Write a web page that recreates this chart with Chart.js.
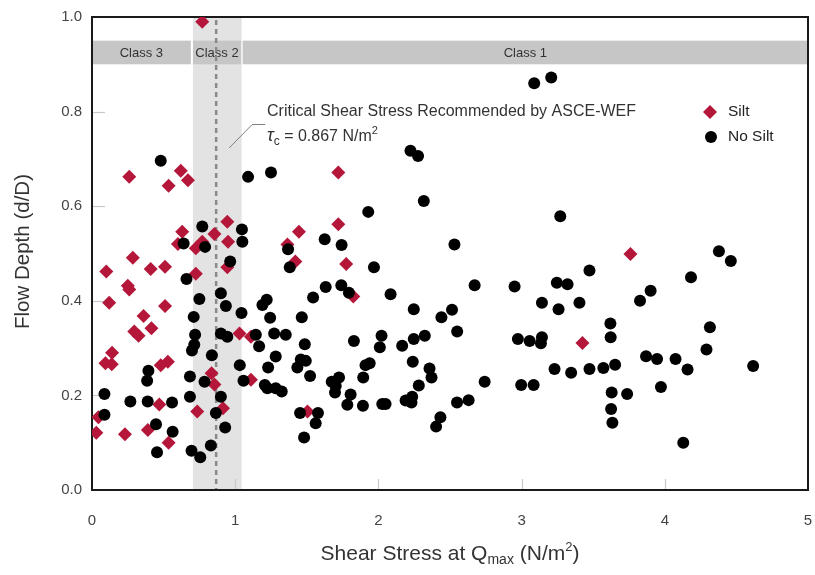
<!DOCTYPE html>
<html>
<head>
<meta charset="utf-8">
<script src="https://cdn.jsdelivr.net/npm/chart.js@4.4.0/dist/chart.umd.min.js"></script>
<style>
  html, body { margin: 0; padding: 0; background: #fff; }
</style>
</head>
<body>
<canvas id="shearChart" width="815" height="575"></canvas>
<script>
// Silt samples (red diamonds)
const siltX = [0.77, 0.26, 0.62, 0.535, 0.67, 0.945, 0.63, 0.855, 0.60, 0.77, 0.725, 0.95, 0.285, 0.945,
  0.10, 0.41, 0.51, 0.725, 0.25, 0.26, 0.12, 0.51, 0.36, 0.415, 0.295, 0.325, 1.03, 1.11, 0.14, 0.094,
  0.138, 0.48, 0.53, 0.835, 0.855, 1.11, 0.47, 0.915, 0.735, 0.045, 0.39, 0.23, 0.03, 0.535,
  1.72, 1.72, 1.445, 1.365, 1.42, 1.775, 1.825, 1.505, 3.76, 3.425];
const siltY = [0.99, 0.662, 0.675, 0.643, 0.655, 0.567, 0.546, 0.541, 0.52, 0.525, 0.511, 0.525, 0.491, 0.471,
  0.462, 0.467, 0.472, 0.457, 0.432, 0.424, 0.396, 0.389, 0.368, 0.342, 0.335, 0.326, 0.331, 0.324, 0.29, 0.268,
  0.266, 0.264, 0.271, 0.247, 0.223, 0.233, 0.181, 0.173, 0.166, 0.154, 0.127, 0.118, 0.121, 0.10,
  0.671, 0.562, 0.546, 0.519, 0.483, 0.478, 0.409, 0.166, 0.499, 0.311];

// No silt samples (black circles)
const noSiltX = [0.48, 1.09, 1.25, 0.77, 1.047, 0.64, 0.79, 1.05, 0.965, 0.66, 0.90, 0.75, 0.935, 1.22,
  1.19, 0.71, 1.044, 1.244, 0.72, 0.90, 0.945, 1.144, 1.272, 1.167, 0.714, 0.698, 0.837, 1.283, 1.032, 1.23,
  0.394, 0.385, 0.684, 0.786, 1.058, 1.207, 1.225, 0.087, 0.268, 0.389, 0.559, 0.684, 0.90, 0.865, 0.087,
  0.447, 0.563, 0.93, 0.83, 0.695, 0.454, 0.756,
  2.224, 2.277, 2.317, 1.929, 1.625, 1.369, 1.743, 2.531, 1.381, 1.969,
  1.632, 1.741, 1.544, 1.794, 2.085, 2.672, 1.465, 2.247, 2.44, 2.514, 2.55, 1.353, 1.486, 1.829, 2.022,
  2.01, 2.166, 2.247, 2.324, 1.458, 1.493, 1.434, 1.523, 1.725, 1.674, 1.702, 1.697, 1.91, 1.939, 1.894,
  2.24, 2.357, 2.371, 2.282, 2.742, 1.283, 1.325, 1.806, 1.783, 1.892, 2.027, 2.05, 2.19, 2.236, 2.231,
  2.549, 2.63, 1.453, 1.578, 1.562, 1.481, 2.433, 2.403,
  3.088, 3.207, 3.27, 3.474, 4.378, 4.461, 4.183, 2.951, 3.246, 3.321, 3.142, 3.258, 3.404, 3.827, 3.901,
  3.62, 3.622, 4.315, 2.974, 3.056, 3.142, 3.135, 4.291, 3.869, 3.946, 4.075, 4.159, 4.617, 3.23, 3.346,
  3.474, 3.571, 3.653, 2.997, 3.084, 3.973, 3.629, 3.737, 3.625, 3.634, 4.129];
const noSiltY = [0.696, 0.662, 0.671, 0.557, 0.551, 0.521, 0.514, 0.525, 0.483, 0.446, 0.416, 0.404, 0.389, 0.402,
  0.391, 0.366, 0.374, 0.364, 0.328, 0.331, 0.324, 0.328, 0.331, 0.304, 0.307, 0.295, 0.285, 0.282, 0.264, 0.259,
  0.252, 0.231, 0.24, 0.229, 0.231, 0.222, 0.215, 0.203, 0.187, 0.187, 0.185, 0.197, 0.197, 0.163, 0.159,
  0.139, 0.123, 0.132, 0.094, 0.083, 0.08, 0.069,
  0.717, 0.706, 0.611, 0.588, 0.53, 0.509, 0.518, 0.519, 0.471, 0.471,
  0.429, 0.433, 0.407, 0.417, 0.414, 0.433, 0.365, 0.382, 0.365, 0.381, 0.335, 0.328, 0.308, 0.315, 0.326,
  0.302, 0.305, 0.319, 0.326, 0.276, 0.273, 0.259, 0.241, 0.238, 0.229, 0.22, 0.206, 0.264, 0.268, 0.238,
  0.271, 0.257, 0.238, 0.221, 0.229, 0.215, 0.208, 0.202, 0.18, 0.178, 0.182, 0.182, 0.189, 0.197, 0.185,
  0.185, 0.19, 0.163, 0.163, 0.141, 0.111, 0.154, 0.134,
  0.86, 0.872, 0.579, 0.464, 0.505, 0.484, 0.45, 0.43, 0.438, 0.435, 0.396, 0.382, 0.396, 0.40, 0.421,
  0.352, 0.323, 0.344, 0.319, 0.315, 0.323, 0.31, 0.297, 0.283, 0.277, 0.277, 0.255, 0.262, 0.256, 0.248,
  0.256, 0.258, 0.265, 0.222, 0.222, 0.218, 0.206, 0.203, 0.171, 0.142, 0.10];

const xTicks = [0, 1, 2, 3, 4, 5];
const yTicks = [0.0, 0.2, 0.4, 0.6, 0.8, 1.0];
const classNames = ["Class 3", "Class 2", "Class 1"];
const classEdges = [[0, 0.69], [0.705, 1.04], [1.052, 5]];
const classStrip = [0.90, 0.95];
const class2Band = [0.705, 1.045];
const criticalShear = 0.867;

const FONT = '"Liberation Sans", Arial, Helvetica, sans-serif';
const RED = '#b5173a';

function toPoints(xs, ys) {
  return xs.map((v, i) => ({ x: v, y: ys[i] }));
}

// draw a run of text pieces with sub/superscripts, returns end x
function drawRich(ctx, parts, x, y) {
  let cx = x;
  parts.forEach(p => {
    ctx.font = (p.italic ? 'italic ' : '') + p.size + 'px ' + FONT;
    ctx.fillText(p.t, cx, y + (p.dy || 0));
    cx += ctx.measureText(p.t).width;
  });
  return cx;
}
function richWidth(ctx, parts) {
  let w = 0;
  parts.forEach(p => {
    ctx.font = (p.italic ? 'italic ' : '') + p.size + 'px ' + FONT;
    w += ctx.measureText(p.t).width;
  });
  return w;
}

const decorations = {
  id: 'decorations',
  beforeDatasetsDraw(chart) {
    const { ctx, chartArea: a, scales: { x, y } } = chart;
    ctx.save();

    // light band for class 2
    const bx0 = x.getPixelForValue(class2Band[0]);
    const bx1 = x.getPixelForValue(class2Band[1]);
    ctx.fillStyle = '#e3e3e3';
    ctx.fillRect(bx0, a.top, bx1 - bx0, a.bottom - a.top);

    // class strip
    const sy0 = y.getPixelForValue(classStrip[1]);
    const sy1 = y.getPixelForValue(classStrip[0]);
    ctx.textAlign = 'center';
    ctx.textBaseline = 'middle';
    classNames.forEach((name, i) => {
      const x0 = x.getPixelForValue(classEdges[i][0]);
      const x1 = x.getPixelForValue(classEdges[i][1]);
      ctx.fillStyle = '#c6c6c6';
      ctx.fillRect(x0, sy0, x1 - x0, sy1 - sy0);
      ctx.fillStyle = '#333';
      ctx.font = '13px ' + FONT;
      ctx.fillText(name, (x0 + x1) / 2, (sy0 + sy1) / 2 + 1);
    });

    // inner tick marks
    ctx.strokeStyle = '#c8c8c8';
    ctx.lineWidth = 1.2;
    yTicks.slice(1, -1).forEach(v => {
      const py = Math.round(y.getPixelForValue(v)) + 0.5;
      ctx.beginPath(); ctx.moveTo(a.left, py); ctx.lineTo(a.left + 13, py); ctx.stroke();
    });
    xTicks.slice(1, -1).forEach(v => {
      const px = Math.round(x.getPixelForValue(v)) + 0.5;
      ctx.beginPath(); ctx.moveTo(px, a.bottom); ctx.lineTo(px, a.bottom - 11); ctx.stroke();
    });

    // critical shear stress line
    const cx = x.getPixelForValue(criticalShear);
    ctx.strokeStyle = '#8a8a8a';
    ctx.lineWidth = 2.5;
    ctx.setLineDash([5, 4]);
    ctx.beginPath(); ctx.moveTo(cx, a.top + 3); ctx.lineTo(cx, a.bottom); ctx.stroke();
    ctx.setLineDash([]);

    // leader line for annotation
    ctx.strokeStyle = '#808080';
    ctx.lineWidth = 1;
    ctx.beginPath();
    ctx.moveTo(cx + 13, 148);
    ctx.lineTo(cx + 36, 124.5);
    ctx.lineTo(cx + 49, 124.5);
    ctx.stroke();

    // frame
    ctx.strokeStyle = '#1a1a1a';
    ctx.lineWidth = 2;
    ctx.strokeRect(a.left, a.top, a.right - a.left, a.bottom - a.top);
    ctx.restore();
  },
  afterDraw(chart) {
    const { ctx, chartArea: a } = chart;
    ctx.save();
    ctx.fillStyle = '#333';
    ctx.textAlign = 'left';
    ctx.textBaseline = 'alphabetic';

    // annotation
    ctx.font = '16px ' + FONT;
    ctx.fillText('Critical Shear Stress Recommended by ASCE-WEF', 267, 116);
    drawRich(ctx, [
      { t: '\u03C4', size: 18, italic: true },
      { t: 'c', size: 12, dy: 4 },
      { t: ' = 0.867 N/m', size: 16 },
      { t: '2', size: 11, dy: -7 }
    ], 267, 141);

    // legend
    ctx.fillStyle = RED;
    ctx.beginPath();
    ctx.moveTo(710, 105); ctx.lineTo(717, 112); ctx.lineTo(710, 119); ctx.lineTo(703, 112);
    ctx.closePath(); ctx.fill();
    ctx.fillStyle = '#000';
    ctx.beginPath(); ctx.arc(711, 137, 6, 0, Math.PI * 2); ctx.fill();
    ctx.fillStyle = '#222';
    ctx.font = '15.5px ' + FONT;
    ctx.textBaseline = 'middle';
    ctx.fillText('Silt', 728, 112);
    ctx.fillText('No Silt', 728, 137);

    // axis titles
    ctx.fillStyle = '#333';
    ctx.textBaseline = 'alphabetic';
    const xParts = [
      { t: 'Shear Stress at Q', size: 21 },
      { t: 'max', size: 14, dy: 4 },
      { t: ' (N/m', size: 21 },
      { t: '2', size: 13, dy: -9 },
      { t: ')', size: 21 }
    ];
    const w = richWidth(ctx, xParts);
    drawRich(ctx, xParts, (a.left + a.right) / 2 - w / 2, 560);

    ctx.translate(29, (a.top + a.bottom) / 2 - 2);
    ctx.rotate(-Math.PI / 2);
    ctx.textAlign = 'center';
    ctx.font = '20.5px ' + FONT;
    ctx.fillText('Flow Depth (d/D)', 0, 0);
    ctx.restore();
  }
};

new Chart(document.getElementById('shearChart'), {
  type: 'scatter',
  data: {
    datasets: [
      {
        label: 'No Silt',
        data: toPoints(noSiltX, noSiltY),
        pointStyle: 'circle',
        pointRadius: 6,
        pointHoverRadius: 6,
        backgroundColor: '#000',
        borderWidth: 0,
        order: 0
      },
      {
        label: 'Silt',
        data: toPoints(siltX, siltY),
        pointStyle: 'rectRot',
        pointRadius: 7,
        pointHoverRadius: 7,
        backgroundColor: RED,
        borderWidth: 0,
        order: 1
      }
    ]
  },
  options: {
    responsive: false,
    animation: false,
    layout: { padding: { left: 0, right: 5, top: 17, bottom: 0 } },
    plugins: {
      legend: { display: false },
      tooltip: { enabled: false }
    },
    scales: {
      x: {
        type: 'linear',
        min: 0,
        max: 5,
        afterBuildTicks: s => { s.ticks = xTicks.map(v => ({ value: v })); },
        afterFit: s => { s.height = 85; s.paddingLeft = 0; s.paddingRight = 0; },
        grid: { display: false, drawTicks: false },
        border: { display: false },
        ticks: { padding: 22, color: '#444', font: { family: FONT, size: 15 }, callback: v => String(v) }
      },
      y: {
        type: 'linear',
        min: 0,
        max: 1,
        afterBuildTicks: s => { s.ticks = yTicks.map(v => ({ value: v })); },
        afterFit: s => { s.width = 92; s.paddingTop = 0; s.paddingBottom = 0; },
        grid: { display: false, drawTicks: false },
        border: { display: false },
        ticks: { padding: 10, color: '#444', font: { family: FONT, size: 15 }, callback: v => Number(v).toFixed(1) }
      }
    }
  },
  plugins: [decorations]
});
</script>
</body>
</html>
